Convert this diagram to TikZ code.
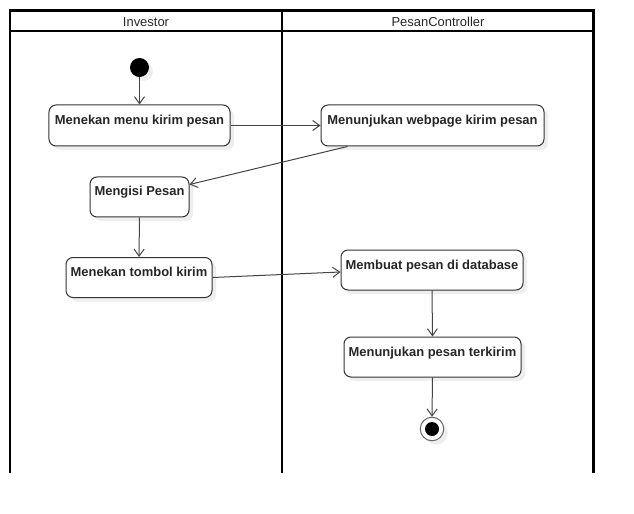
\documentclass[tikz,border=0pt]{standalone}
\usepackage{fontspec}
\setmainfont{Liberation Sans}
\usetikzlibrary{arrows.meta,shadows,calc}
\definecolor{edgecol}{HTML}{444444}
\definecolor{shadowcol}{HTML}{EEEEEE}
\tikzset{
  lane/.style={draw=black, line width=2.2bp},
  lanetitle/.style={font=\fontsize{13}{15}\selectfont, text=black!85, inner sep=0pt, anchor=base},
  act/.style={draw=black!80, line width=1bp, rounded corners=7bp, fill=white,
    font=\bfseries\fontsize{13}{15}\selectfont, text=black!85,
    inner xsep=3bp, inner ysep=5bp, text height=14bp, text depth=16bp,
    drop shadow={shadow xshift=4bp, shadow yshift=-4bp, fill=shadowcol, opacity=1}},
  flow/.style={draw=edgecol, line width=1bp, -{Straight Barb[length=7bp,width=10bp]}},
  startnode/.style={circle, fill=black, minimum size=19bp, inner sep=0pt,
    drop shadow={shadow xshift=4bp, shadow yshift=-4bp, fill=shadowcol, opacity=1}},
  endnode/.style={circle, draw=black!60, fill=white, line width=1bp, minimum size=23.5bp, inner sep=0pt,
    drop shadow={shadow xshift=4bp, shadow yshift=-4bp, fill=shadowcol, opacity=1}},
}
\begin{document}
\begin{tikzpicture}[x=1bp,y=-1bp]
\useasboundingbox (0,0) rectangle (634,514);
% swimlanes
\draw[lane] (10,473) -- (10,10.5) -- (593.5,10.5) -- (593.5,473);
\draw[lane] (10,31) -- (593.5,31);
\draw[lane] (282.3,10.5) -- (282.3,473);
\node[lanetitle] (t1) at (146,26.5) {Investor};
\node[lanetitle] (t2) at (438,26.5) {PesanController};
% nodes
\node[startnode] (s) at (139.5,67.5) {};
\node[act, minimum width=181bp, minimum height=41bp] (a) at (139.5,125.5) {Menekan menu kirim pesan};
\node[act, minimum width=223bp, minimum height=41bp] (b) at (432.5,125.5) {Menunjukan webpage kirim pesan};
\node[act, minimum width=99bp, minimum height=40bp] (c) at (139.5,197) {Mengisi Pesan};
\node[act, minimum width=146bp, minimum height=39bp] (d) at (139,277.5) {Menekan tombol kirim};
\node[act, minimum width=182bp, minimum height=40bp] (e) at (432,270) {Membuat pesan di database};
\node[act, minimum width=177bp, minimum height=40bp] (f) at (432.5,357) {Menunjukan pesan terkirim};
\node[endnode] (z) at (432,429) {};
\fill[black] (z.center) circle (7bp);
% connectors
\draw[flow] (s) -- (a.north);
\draw[flow] (a.east) -- (b.west);
\draw[flow] ($(b.south west)+(27,0)$) -- ($(c.north east)+(0,8)$);
\draw[flow] (c.south) -- (d.north);
\draw[flow] (d.east) -- ($(e.west)+(0,2)$);
\draw[flow] (e.south) -- (f.north);
\draw[flow] (f.south) -- (z.north);
\end{tikzpicture}
\end{document}
